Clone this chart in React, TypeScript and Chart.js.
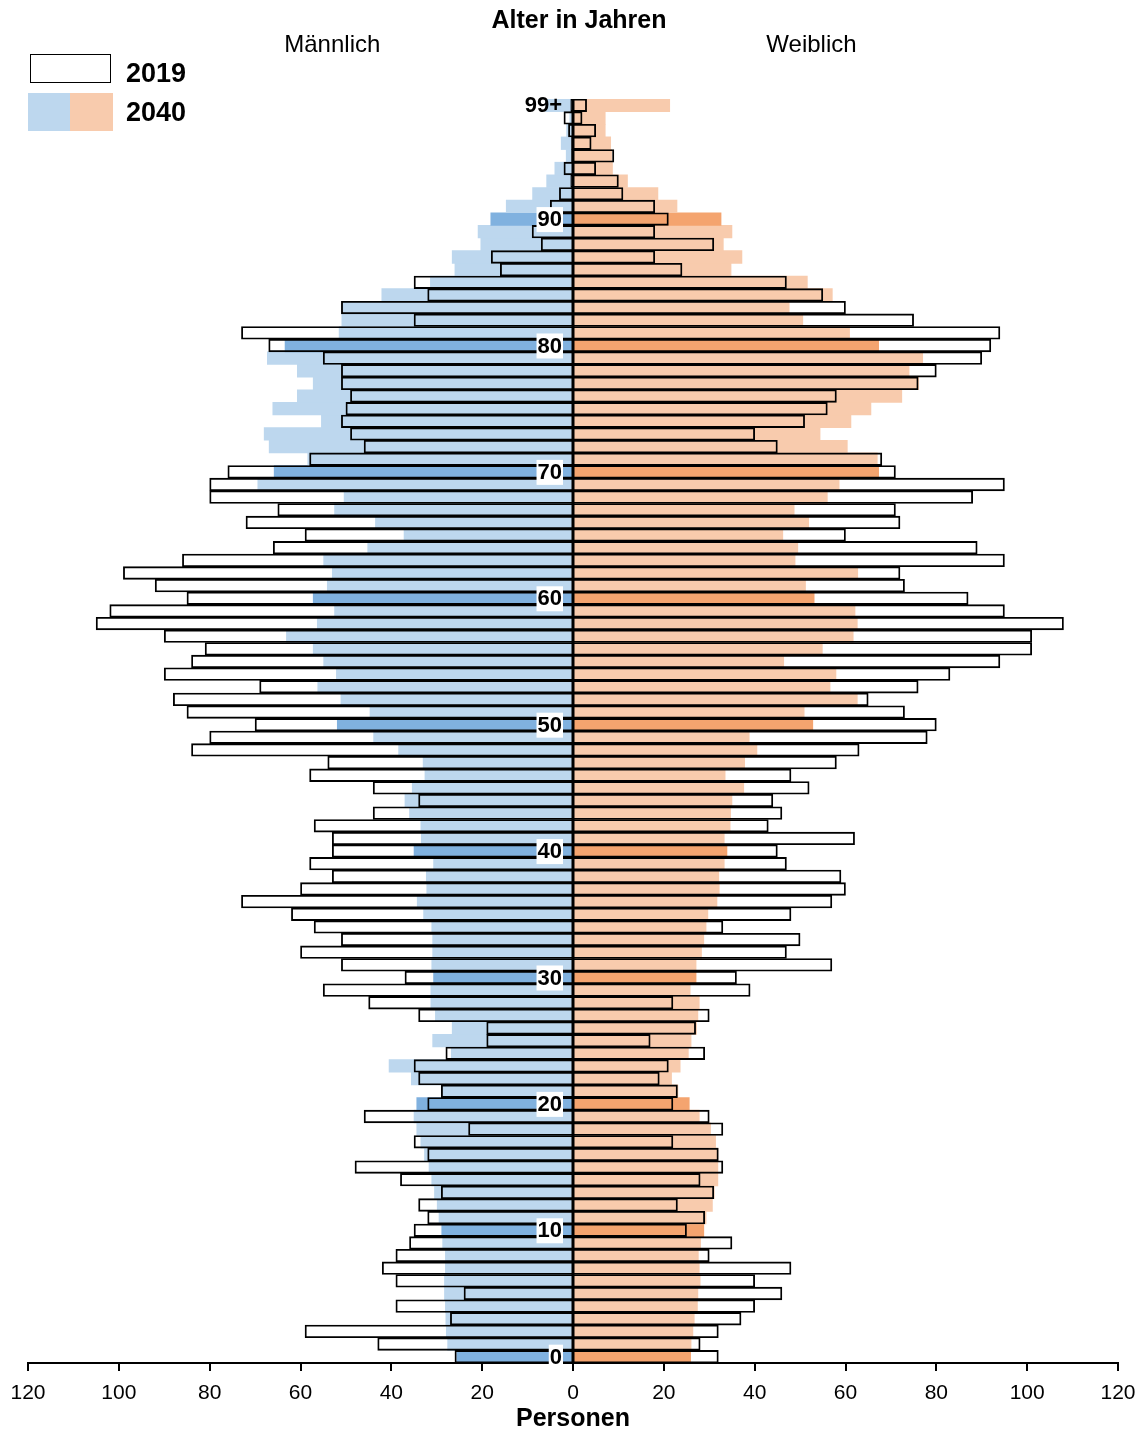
import React, { useEffect, useRef } from "react";
import { Chart, registerables } from "chart.js";

Chart.register(...registerables);

const FONT = '"Liberation Sans", Arial, Helvetica, sans-serif';

// Age categories 0 .. 98, 99+
const ages: string[] = Array.from({ length: 100 }, (_, i) => (i === 99 ? "99+" : String(i)));

// Age labels shown in the centre of the pyramid
const ageMarks: number[] = [0, 10, 20, 30, 40, 50, 60, 70, 80, 90, 99];
const ageMarkLabels: string[] = ["0", "10", "20", "30", "40", "50", "60", "70", "80", "90", "99+"];

const xTickValues: number[] = [-120, -100, -80, -60, -40, -20, 0, 20, 40, 60, 80, 100, 120];

// Male 2019 (outline), ages 0..99+
const male2019: number[] = [
  26, 43, 59, 27, 39, 24, 39, 42, 39, 36,
  35, 32, 34, 29, 38, 48, 32, 35, 23, 46,
  32, 29, 34, 35, 28, 19, 19, 34, 45, 55,
  37, 51, 60, 51, 57, 62, 73, 60, 53, 58,
  53, 53, 57, 44, 34, 44, 58, 54, 84, 80,
  70, 85, 88, 69, 90, 84, 81, 90, 105, 102,
  85, 92, 99, 86, 66, 59, 72, 65, 80, 80,
  76, 58, 46, 49, 51, 50, 49, 51, 51, 55,
  67, 73, 35, 51, 32, 35, 16, 18, 7, 9,
  6, 5, 3, 0.5, 2, 0.3, 0.3, 1, 2, 0.5,
];

// Female 2019 (outline), ages 0..99+
const female2019: number[] = [
  32, 28, 32, 37, 40, 46, 40, 48, 30, 35,
  25, 29, 23, 31, 28, 33, 32, 22, 33, 30,
  22, 23, 19, 21, 29, 17, 27, 30, 22, 39,
  36, 57, 47, 50, 33, 48, 57, 60, 59, 47,
  45, 62, 43, 46, 44, 52, 48, 58, 63, 78,
  80, 73, 65, 76, 83, 94, 101, 101, 108, 95,
  87, 73, 72, 95, 89, 60, 72, 71, 88, 95,
  71, 68, 45, 40, 51, 56, 58, 76, 80, 90,
  92, 94, 75, 60, 55, 47, 24, 18, 31, 18,
  21, 18, 11, 10, 5, 9, 4, 5, 2, 3,
];

// Male 2040 (filled), ages 0..99+
const male2040: number[] = [
  25.6, 27.6, 27.9, 28.0, 28.1, 28.3, 28.3, 28.1, 28.1, 28.7,
  28.9, 29.5, 29.9, 30.5, 31.1, 31.7, 32.7, 33.5, 34.4, 35.0,
  34.4, 28.8, 35.6, 40.5, 26.8, 30.9, 26.6, 30.3, 31.3, 31.3,
  30.7, 31.1, 30.9, 30.9, 31.1, 32.9, 34.3, 32.2, 32.3, 30.7,
  35.0, 33.4, 33.5, 36.0, 37.0, 35.4, 32.6, 33.0, 38.4, 43.9,
  51.9, 44.7, 51.1, 56.2, 52.1, 54.9, 57.2, 63.1, 56.3, 52.5,
  57.2, 54.1, 53.0, 54.9, 45.2, 37.2, 43.5, 52.5, 50.4, 69.4,
  65.8, 58.4, 66.9, 68.0, 55.4, 66.1, 60.7, 57.2, 60.7, 67.3,
  63.4, 51.5, 50.9, 50.9, 42.1, 31.4, 26.0, 26.6, 20.3, 20.9,
  18.1, 14.7, 8.9, 5.8, 4.0, 1.5, 2.6, 1.4, 0.7, 6.0,
];

// Female 2040 (filled), ages 0..99+
const female2040: number[] = [
  25.9, 26.0, 26.4, 26.7, 27.4, 27.5, 28.0, 27.8, 27.6, 28.1,
  28.8, 29.3, 30.7, 31.1, 31.9, 31.9, 31.9, 31.4, 30.3, 27.8,
  25.6, 23.1, 21.7, 23.6, 25.4, 26.0, 27.2, 27.5, 27.8, 25.8,
  27.1, 27.1, 28.3, 28.8, 29.3, 29.7, 31.7, 32.2, 32.1, 33.3,
  33.9, 33.3, 34.6, 34.7, 35.0, 37.6, 33.5, 37.8, 40.5, 38.8,
  52.8, 50.9, 62.6, 56.6, 57.9, 46.4, 54.9, 61.7, 62.6, 62.1,
  53.1, 51.2, 62.7, 48.9, 49.5, 46.2, 51.9, 48.7, 56.0, 58.6,
  67.3, 67.0, 60.4, 54.4, 61.2, 65.6, 72.4, 76.1, 74.0, 77.0,
  67.3, 60.9, 50.6, 47.6, 57.1, 51.6, 34.8, 37.2, 33.1, 35.0,
  32.6, 22.9, 18.7, 12.0, 8.7, 8.5, 8.3, 7.1, 7.1, 21.3,
];

const LIGHT_BLUE = "#BDD7EE";
const DARK_BLUE = "#80B1DF";
const LIGHT_ORANGE = "#F8CBAD";
const DARK_ORANGE = "#F4A46F";

const isMark = (i: number) => i % 10 === 0 && i < 99;

const overlayPlugin = {
  id: "overlay",
  afterDatasetsDraw(chart: any) {
    const { ctx, chartArea } = chart;
    const x = chart.scales.x;
    const y = chart.scales.y;
    const x0 = x.getPixelForValue(0);
    ctx.save();

    // centre axis line
    ctx.fillStyle = "#000";
    ctx.fillRect(x0 - 1.5, chartArea.top, 3, chartArea.bottom - chartArea.top);

    // age labels
    ctx.font = `bold 22px ${FONT}`;
    ctx.textAlign = "right";
    ctx.textBaseline = "middle";
    ageMarks.forEach((age, k) => {
      const text = ageMarkLabels[k];
      const yy = y.getPixelForValue(age);
      const w = ctx.measureText(text).width;
      const right = x0 - 11;
      if (text !== "99+") {
        ctx.fillStyle = "#fff";
        ctx.fillRect(right - w - 1, yy - 12, w + 2, 25);
      }
      ctx.fillStyle = "#000";
      ctx.fillText(text, right, yy + 1);
    });

    // titles
    ctx.textAlign = "center";
    ctx.fillStyle = "#000";
    ctx.font = `bold 25px ${FONT}`;
    ctx.fillText("Alter in Jahren", x0 + 6, 21);
    ctx.font = `24px ${FONT}`;
    ctx.fillText("Männlich", x.getPixelForValue(-53), 45);
    ctx.fillText("Weiblich", x.getPixelForValue(52.5), 45);

    // legend
    ctx.fillStyle = "#fff";
    ctx.fillRect(30, 54, 80, 28);
    ctx.strokeStyle = "#000";
    ctx.lineWidth = 1;
    ctx.strokeRect(30.5, 54.5, 80, 28);
    ctx.fillStyle = LIGHT_BLUE;
    ctx.fillRect(28, 93, 42, 38);
    ctx.fillStyle = LIGHT_ORANGE;
    ctx.fillRect(70, 93, 43, 38);
    ctx.fillStyle = "#000";
    ctx.textAlign = "left";
    ctx.font = `bold 27px ${FONT}`;
    ctx.fillText("2019", 126, 75);
    ctx.fillText("2040", 126, 114);

    ctx.restore();
  },
};

export default function App() {
  const canvasRef = useRef<HTMLCanvasElement | null>(null);

  useEffect(() => {
    const canvas = canvasRef.current;
    if (!canvas) return;
    const common = { grouped: false, barPercentage: 1, categoryPercentage: 1 };
    const chart = new Chart(canvas, {
      type: "bar",
      data: {
        labels: ages,
        datasets: [
          {
            ...common,
            label: "Männlich 2019",
            data: male2019.map((v) => -v),
            backgroundColor: "rgba(255,255,255,0)",
            borderColor: "#000",
            borderWidth: 1.2,
            borderSkipped: "start",
            order: 1,
          },
          {
            ...common,
            label: "Weiblich 2019",
            data: female2019,
            backgroundColor: "rgba(255,255,255,0)",
            borderColor: "#000",
            borderWidth: 1.2,
            borderSkipped: "start",
            order: 1,
          },
          {
            ...common,
            label: "Männlich 2040",
            data: male2040.map((v) => -v),
            backgroundColor: ages.map((_, i) => (isMark(i) ? DARK_BLUE : LIGHT_BLUE)),
            borderWidth: 0,
            order: 2,
          },
          {
            ...common,
            label: "Weiblich 2040",
            data: female2040,
            backgroundColor: ages.map((_, i) => (isMark(i) ? DARK_ORANGE : LIGHT_ORANGE)),
            borderWidth: 0,
            order: 2,
          },
        ] as any,
      },
      options: {
        indexAxis: "y",
        animation: false,
        responsive: false,
        devicePixelRatio: 1,
        layout: { padding: { left: 28, right: 27, top: 99, bottom: 0 } },
        plugins: {
          legend: { display: false },
          tooltip: { enabled: false },
          title: { display: false },
        },
        scales: {
          y: {
            type: "category",
            display: false,
            reverse: true,
            grid: { display: false },
          },
          x: {
            type: "linear",
            min: -120,
            max: 120,
            afterBuildTicks: (scale: any) => {
              scale.ticks = xTickValues.map((v) => ({ value: v }));
            },
            afterFit: (scale: any) => {
              scale.paddingLeft = 0;
              scale.paddingRight = 0;
              scale.height = 71;
            },
            ticks: {
              callback: (v: any) => String(Math.abs(Number(v))),
              font: { size: 21, family: FONT, lineHeight: 1.2 },
              color: "#000",
              padding: 9.5,
              maxRotation: 0,
              autoSkip: false,
            },
            grid: {
              drawOnChartArea: false,
              drawTicks: true,
              tickLength: 8,
              color: "#000",
              lineWidth: 2,
            },
            border: { display: true, color: "#000", width: 2 },
            title: {
              display: true,
              text: "Personen",
              font: { size: 25, weight: "bold", family: FONT, lineHeight: 1.152 },
              color: "#000",
              padding: { top: 0, bottom: 0 },
            },
          },
        },
      } as any,
      plugins: [overlayPlugin],
    });
    return () => chart.destroy();
  }, []);

  return (
    <div style={{ position: "absolute", left: 0, top: 0, width: 1145, height: 1434, background: "#fff" }}>
      <canvas ref={canvasRef} width={1145} height={1434} style={{ display: "block", width: 1145, height: 1434 }} />
    </div>
  );
}
